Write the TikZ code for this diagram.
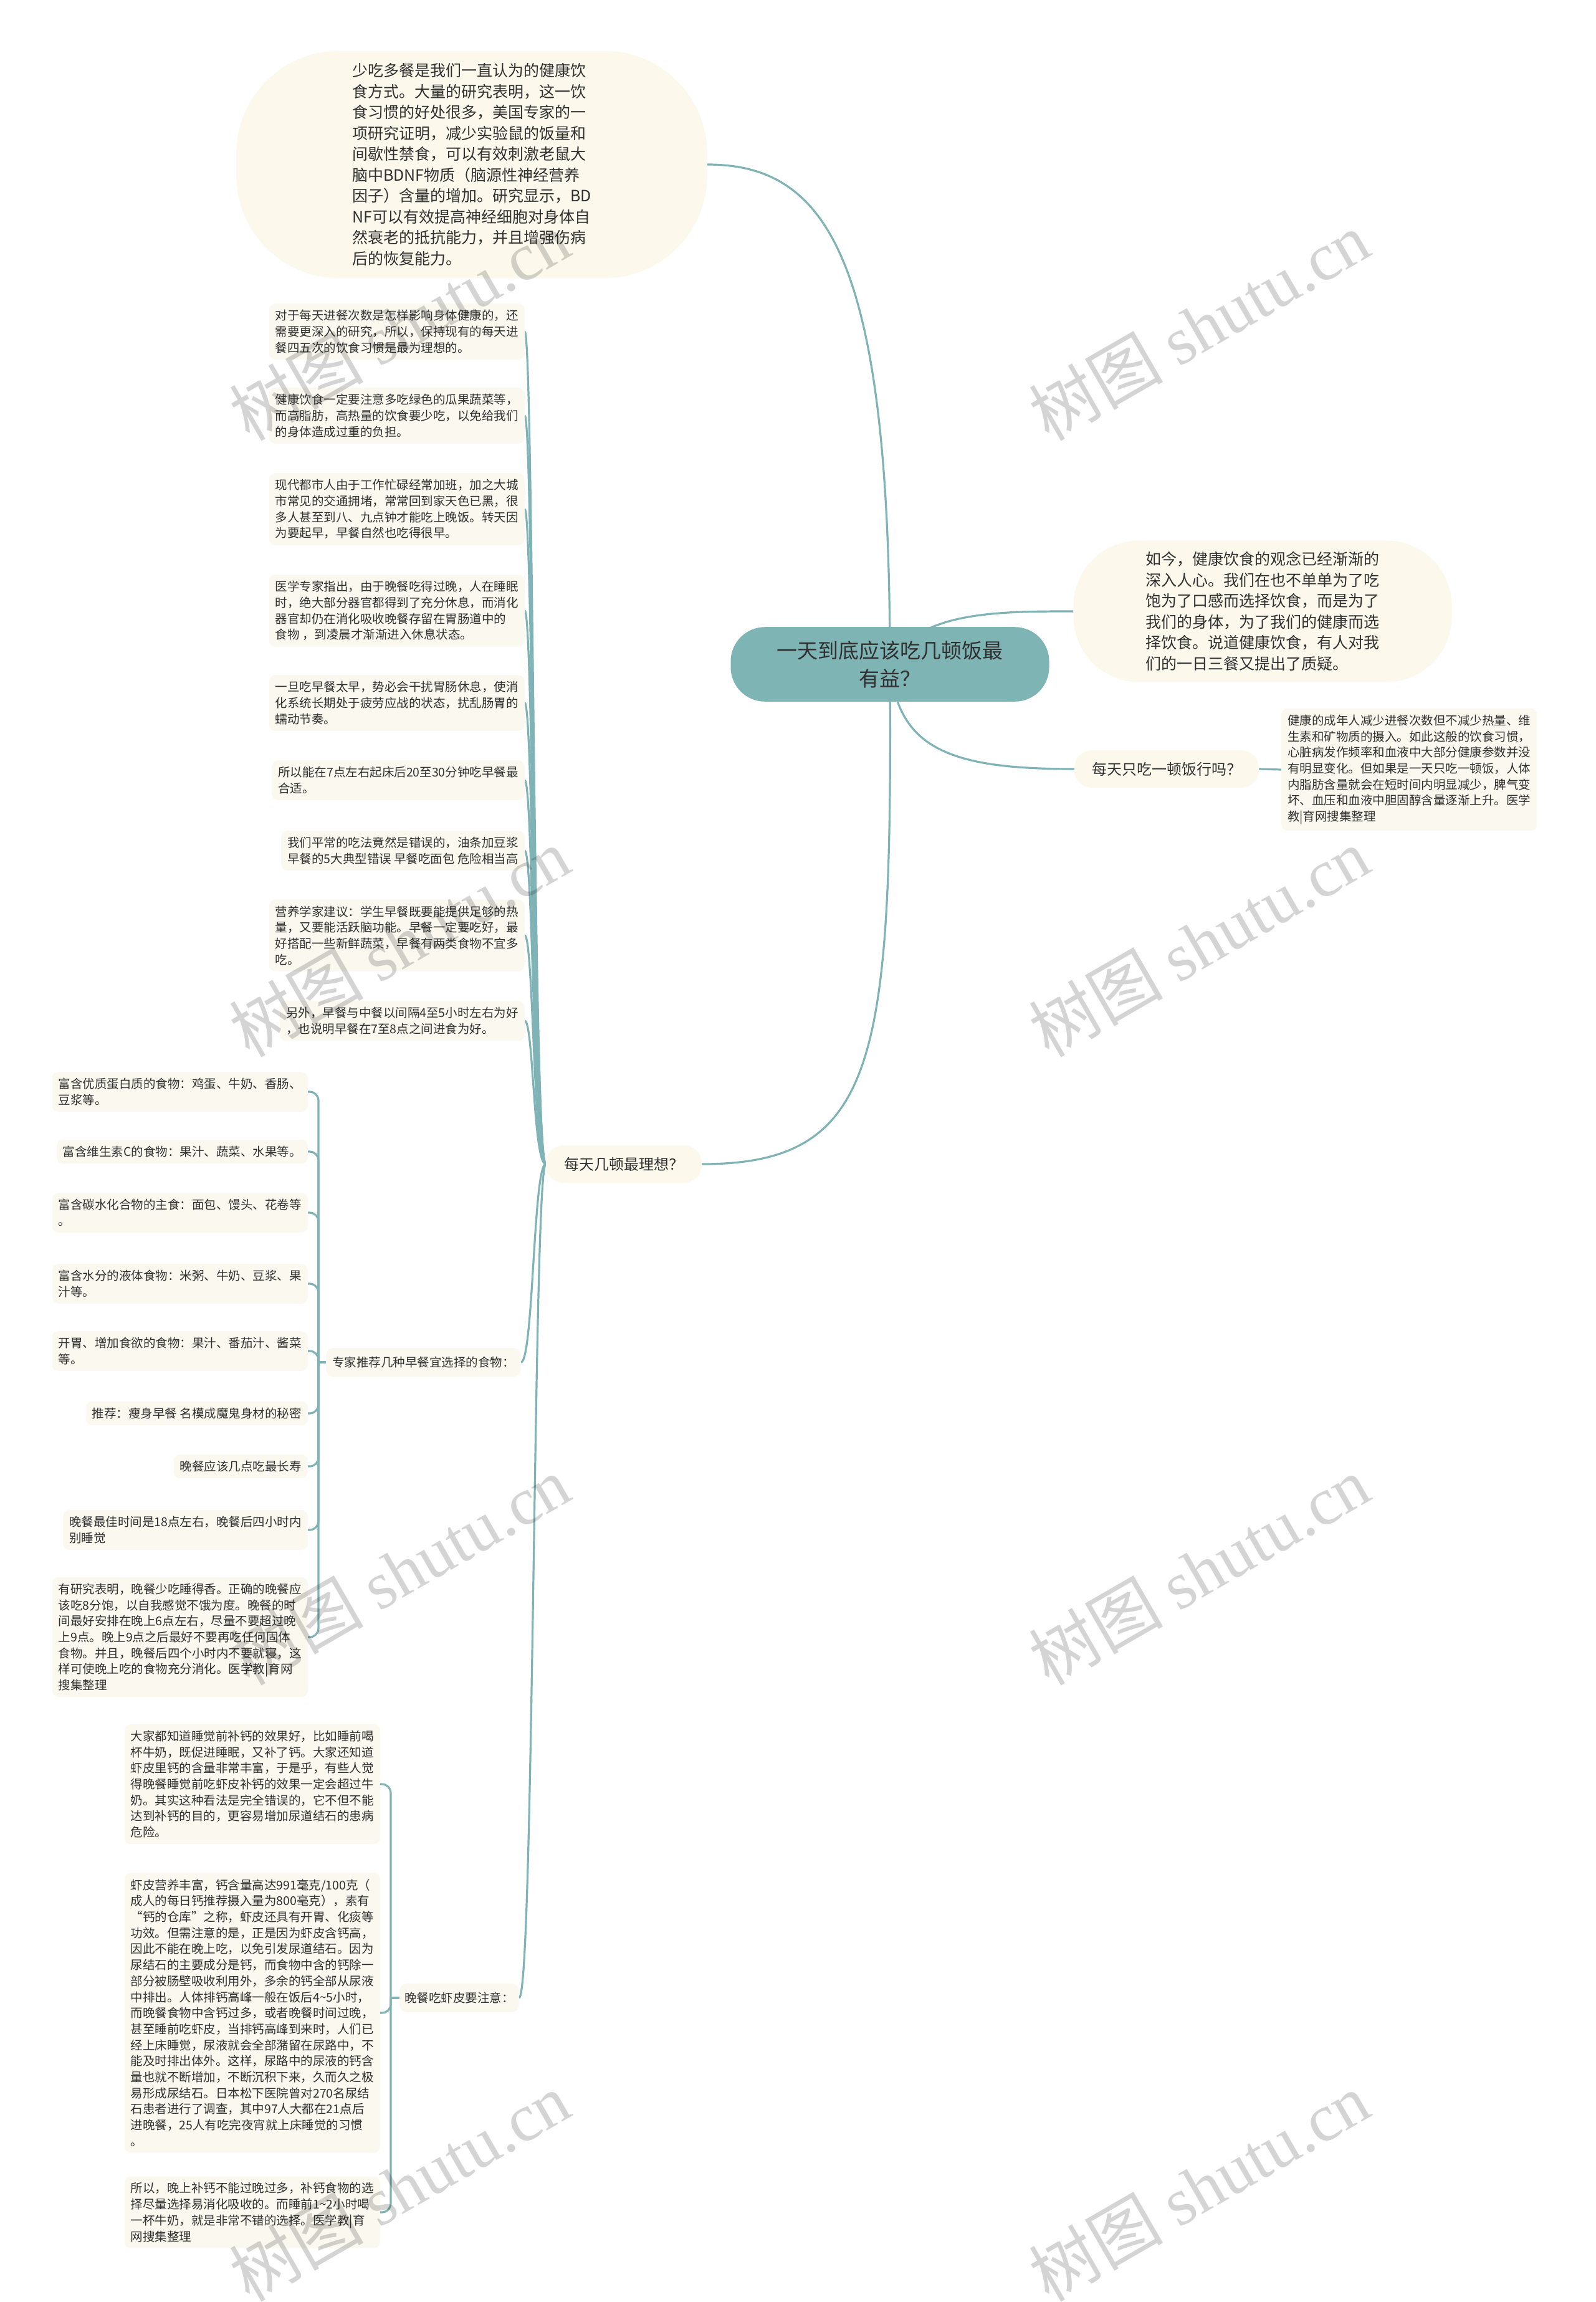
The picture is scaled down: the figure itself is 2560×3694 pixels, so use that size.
\documentclass[tikz,border=0pt]{standalone}
\usepackage{fontspec}
\setmainfont{Noto Sans CJK SC}
\newfontfamily\wmlatin{Liberation Serif}
\usetikzlibrary{calc}
\pgfdeclarelayer{bg}
\pgfsetlayers{bg,main}
\definecolor{rootfill}{HTML}{7FB4B5}
\definecolor{lineC}{HTML}{80B3B6}
\definecolor{cream}{HTML}{FBF8EF}
\definecolor{bubblefill}{HTML}{FCF9EC}
\definecolor{txt}{HTML}{303030}
\tikzset{
  leaf/.style={fill=cream, rounded corners=10pt, inner xsep=10pt, inner ysep=10pt,
    align=left, text=txt, font=\fontsize{19.5pt}{25.7pt}\selectfont},
  bubblebox/.style={fill=bubblefill, align=left, text=txt,
    font=\fontsize{25pt}{33.5pt}\selectfont},
  rootbox/.style={fill=rootfill, rounded corners=55pt, align=center, text=txt,
    inner xsep=74pt, inner ysep=22pt, font=\fontsize{33pt}{45pt}\selectfont},
  topicbox/.style={fill=bubblefill, rounded corners=28pt, text=txt,
    inner ysep=19pt, font=\fontsize{24pt}{30pt}\selectfont},
  subbox/.style={fill=cream, rounded corners=12pt, text=txt, inner xsep=10pt,
    inner ysep=14pt, font=\fontsize{19.5pt}{25pt}\selectfont},
  conn/.style={draw=lineC, line width=3.2pt},
  wm/.style={text=black, text opacity=0.17, rotate=30,
    font=\fontsize{108pt}{112pt}\selectfont}
}
\begin{document}
\begin{tikzpicture}[x=1pt,y=-1pt]
\useasboundingbox (0,0) rectangle (2560,3694);

% root and main topics
\node[rootbox] (root) at (1428,1066) {一天到底应该吃几顿饭最\\有益？};

\node[bubblebox, rounded corners=165pt, inner xsep=186pt, inner ysep=20pt] (tb) at (757,264)
 {少吃多餐是我们一直认为的健康饮\\食方式。大量的研究表明，这一饮\\食习惯的好处很多，美国专家的一\\项研究证明，减少实验鼠的饭量和\\间歇性禁食，可以有效刺激老鼠大\\脑中BDNF物质（脑源性神经营养\\因子）含量的增加。研究显示，BD\\NF可以有效提高神经细胞对身体自\\然衰老的抵抗能力，并且增强伤病\\后的恢复能力。};

\node[bubblebox, rounded corners=105pt, inner xsep=116pt, inner ysep=18pt] (rb) at (2026,981)
 {如今，健康饮食的观念已经渐渐的\\深入人心。我们在也不单单为了吃\\饱为了口感而选择饮食，而是为了\\我们的身体，为了我们的健康而选\\择饮食。说道健康饮食，有人对我\\们的一日三餐又提出了质疑。};

\node[topicbox, inner xsep=28pt] (q) at (1872,1234) {每天只吃一顿饭行吗？};
\node[leaf, anchor=west] (rl) at (2056,1235)
 {健康的成年人减少进餐次数但不减少热量、维\\生素和矿物质的摄入。如此这般的饮食习惯，\\心脏病发作频率和血液中大部分健康参数并没\\有明显变化。但如果是一天只吃一顿饭，人体\\内脂肪含量就会在短时间内明显减少，脾气变\\坏、血压和血液中胆固醇含量逐渐上升。医学\\教|育网搜集整理};

\node[topicbox, inner xsep=29pt] (m) at (1001,1868) {每天几顿最理想？};

% group 1 leaves
\node[leaf, anchor=east] (g1) at (842,532) {对于每天进餐次数是怎样影响身体健康的，还\\需要更深入的研究，所以，保持现有的每天进\\餐四五次的饮食习惯是最为理想的。};
\node[leaf, anchor=east] (g2) at (842,667) {健康饮食一定要注意多吃绿色的瓜果蔬菜等，\\而高脂肪，高热量的饮食要少吃，以免给我们\\的身体造成过重的负担。};
\node[leaf, anchor=east] (g3) at (842,817) {现代都市人由于工作忙碌经常加班，加之大城\\市常见的交通拥堵，常常回到家天色已黑，很\\多人甚至到八、九点钟才能吃上晚饭。转天因\\为要起早，早餐自然也吃得很早。};
\node[leaf, anchor=east] (g4) at (842,980) {医学专家指出，由于晚餐吃得过晚，人在睡眠\\时，绝大部分器官都得到了充分休息，而消化\\器官却仍在消化吸收晚餐存留在胃肠道中的\\食物 ，到凌晨才渐渐进入休息状态。};
\node[leaf, anchor=east] (g5) at (842,1128) {一旦吃早餐太早，势必会干扰胃肠休息，使消\\化系统长期处于疲劳应战的状态，扰乱肠胃的\\蠕动节奏。};
\node[leaf, anchor=east] (g6) at (842,1252) {所以能在7点左右起床后20至30分钟吃早餐最\\合适。};
\node[leaf, anchor=east] (g7) at (842,1365) {我们平常的吃法竟然是错误的，油条加豆浆\\早餐的5大典型错误 早餐吃面包 危险相当高};
\node[leaf, anchor=east] (g8) at (842,1501) {营养学家建议：学生早餐既要能提供足够的热\\量，又要能活跃脑功能。早餐一定要吃好，最\\好搭配一些新鲜蔬菜，早餐有两类食物不宜多\\吃。};
\node[leaf, anchor=east] (g9) at (842,1638) {另外，早餐与中餐以间隔4至5小时左右为好\\，也说明早餐在7至8点之间进食为好。};

% sub topics
\node[subbox, anchor=west] (ex) at (523,2186) {专家推荐几种早餐宜选择的食物：};
\node[subbox, anchor=west, inner xsep=8pt] (dn) at (641,3206) {晚餐吃虾皮要注意：};

% breakfast leaves
\node[leaf, anchor=east] (b1) at (494,1752) {富含优质蛋白质的食物：鸡蛋、牛奶、香肠、\\豆浆等。};
\node[leaf, anchor=east] (b2) at (494,1848) {富含维生素C的食物：果汁、蔬菜、水果等。};
\node[leaf, anchor=east] (b3) at (494,1946) {富含碳水化合物的主食：面包、馒头、花卷等\\。};
\node[leaf, anchor=east] (b4) at (494,2060) {富含水分的液体食物：米粥、牛奶、豆浆、果\\汁等。};
\node[leaf, anchor=east] (b5) at (494,2168) {开胃、增加食欲的食物：果汁、番茄汁、酱菜\\等。};
\node[leaf, anchor=east] (b6) at (494,2268) {推荐：瘦身早餐 名模成魔鬼身材的秘密};
\node[leaf, anchor=east] (b7) at (494,2353) {晚餐应该几点吃最长寿};
\node[leaf, anchor=east] (b8) at (494,2455) {晚餐最佳时间是18点左右，晚餐后四小时内\\别睡觉};
\node[leaf, anchor=east] (b9) at (494,2627) {有研究表明，晚餐少吃睡得香。正确的晚餐应\\该吃8分饱，以自我感觉不饿为度。晚餐的时\\间最好安排在晚上6点左右，尽量不要超过晚\\上9点。晚上9点之后最好不要再吃任何固体\\食物。并且，晚餐后四个小时内不要就寝，这\\样可使晚上吃的食物充分消化。医学教|育网\\搜集整理};

% calcium leaves
\node[leaf, anchor=east] (c1) at (610,2863) {大家都知道睡觉前补钙的效果好，比如睡前喝\\杯牛奶，既促进睡眠，又补了钙。大家还知道\\虾皮里钙的含量非常丰富，于是乎，有些人觉\\得晚餐睡觉前吃虾皮补钙的效果一定会超过牛\\奶。其实这种看法是完全错误的，它不但不能\\达到补钙的目的，更容易增加尿道结石的患病\\危险。};
\node[leaf, anchor=east] (c2) at (610,3230) {虾皮营养丰富，钙含量高达991毫克/100克（\\成人的每日钙推荐摄入量为800毫克），素有\\“钙的仓库”之称，虾皮还具有开胃、化痰等\\功效。但需注意的是，正是因为虾皮含钙高，\\因此不能在晚上吃，以免引发尿道结石。因为\\尿结石的主要成分是钙，而食物中含的钙除一\\部分被肠壁吸收利用外，多余的钙全部从尿液\\中排出。人体排钙高峰一般在饭后4\textasciitilde 5小时，\\而晚餐食物中含钙过多，或者晚餐时间过晚，\\甚至睡前吃虾皮，当排钙高峰到来时，人们已\\经上床睡觉，尿液就会全部潴留在尿路中，不\\能及时排出体外。这样，尿路中的尿液的钙含\\量也就不断增加，不断沉积下来，久而久之极\\易形成尿结石。日本松下医院曾对270名尿结\\石患者进行了调查，其中97人大都在21点后\\进晚餐，25人有吃完夜宵就上床睡觉的习惯\\。};
\node[leaf, anchor=east] (c3) at (610,3550) {所以，晚上补钙不能过晚过多，补钙食物的选\\择尽量选择易消化吸收的。而睡前1\textasciitilde 2小时喝\\一杯牛奶，就是非常不错的选择。医学教|育\\网搜集整理};

\coordinate (bt) at (511,2186);
\coordinate (ct) at (627,3206);

\begin{pgfonlayer}{bg}
\fill[white] (0,0) rectangle (2560,3694);
\draw[conn] (root.center) .. controls (1428,420) and (1330,264) .. (tb.east);
\draw[conn] (root.center) .. controls (1470,981) and (1600,981) .. (rb.west);
\draw[conn] (root.center) .. controls (1440,1200) and (1520,1234) .. (q.west);
\draw[conn] (root.center) .. controls (1432,1700) and (1410,1868) .. (m.east);
\draw[conn] (q.east) -- (rl.west);
\foreach \i in {1,...,9} {
  \draw[conn] (m.west) .. controls +(-20,0) and +(14,0) .. (g\i.east);
}
\draw[conn] (m.west) .. controls +(-20,0) and +(20,0) .. (ex.east);
\draw[conn] (m.west) .. controls +(-20,0) and +(24,0) .. (dn.east);
\foreach \i in {1,...,9} {
  \draw[conn, rounded corners=14pt] (b\i.east) -| (bt);
}
\draw[conn] (bt) -- (ex.west);
\foreach \i in {1,...,3} {
  \draw[conn, rounded corners=14pt] (c\i.east) -| (ct);
}
\draw[conn] (ct) -- (dn.west);
\end{pgfonlayer}

% watermarks
\node[wm] (w1) at (641,523) {树图 {\wmlatin shutu.cn}};
\node[wm] (w2) at (1924,523) {树图 {\wmlatin shutu.cn}};
\node[wm] (w3) at (641,1512) {树图 {\wmlatin shutu.cn}};
\node[wm] (w4) at (1924,1512) {树图 {\wmlatin shutu.cn}};
\node[wm] (w5) at (641,2520) {树图 {\wmlatin shutu.cn}};
\node[wm] (w6) at (1924,2520) {树图 {\wmlatin shutu.cn}};
\node[wm] (w7) at (641,3509) {树图 {\wmlatin shutu.cn}};
\node[wm] (w8) at (1924,3509) {树图 {\wmlatin shutu.cn}};
\end{tikzpicture}
\end{document}
